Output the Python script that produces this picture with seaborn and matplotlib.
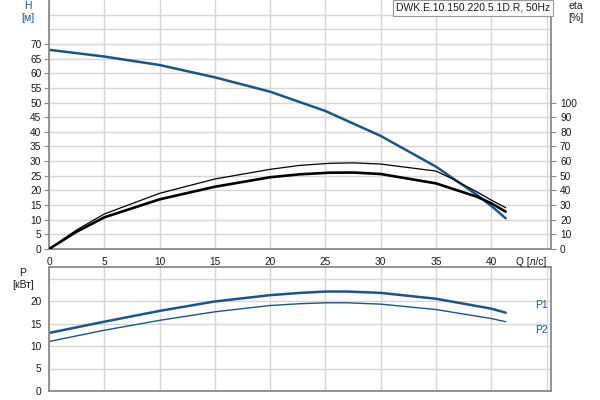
import matplotlib
matplotlib.use("Agg")
import matplotlib.pyplot as plt
import seaborn as sns
from matplotlib.ticker import FixedLocator

# ---- data ----
q_h = [0, 5, 10, 15, 20, 25, 30, 35, 38.7, 40, 41.3]
head = [68.0, 65.7, 62.8, 58.6, 53.7, 47.1, 38.6, 28.1, 18.5, 14.7, 10.5]

q_eta = [0, 2.5, 5, 10, 15, 20, 22.7, 25.4, 27.5, 30, 35, 36.4, 38.7, 40, 41.3]
eta_1 = [0, 13.0, 23.9, 38.0, 47.8, 54.4, 57.1, 58.5, 58.8, 58.0, 53.2, 48.2, 39.0, 33.4, 28.2]
q_eta2 = [0, 2.5, 5, 10, 15, 20, 22.7, 25.4, 27.5, 30, 35, 38.7, 40, 41.3]
eta_2 = [0, 11.8, 21.6, 33.9, 42.5, 49.0, 51.0, 52.1, 52.2, 51.2, 44.8, 35.7, 31.2, 25.5]

q_p = [0, 5, 10, 15, 20, 22.7, 25, 27, 30, 35, 40, 41.3]
p1 = [12.9, 15.4, 17.8, 19.9, 21.3, 21.8, 22.1, 22.1, 21.8, 20.5, 18.3, 17.4]
p2 = [11.0, 13.5, 15.7, 17.6, 19.0, 19.4, 19.6, 19.6, 19.3, 18.1, 16.1, 15.4]

x_ticks = [0, 5, 10, 15, 20, 25, 30, 35, 40, 45]
x_labels = ["0", "5", "10", "15", "20", "25", "30", "35", "40", "Q [л/с]"]
h_ticks = [0, 5, 10, 15, 20, 25, 30, 35, 40, 45, 50, 55, 60, 65, 70]
eta_ticks = [0, 10, 20, 30, 40, 50, 60, 70, 80, 90, 100]
p_ticks = [0, 5, 10, 15, 20]
title = "DWK.E.10.150.220.5.1D.R, 50Hz"

# ---- style ----
sns.set_style("white")
plt.rcParams["font.family"] = ["Liberation Sans", "DejaVu Sans"]
BLUE = "#1b5391"
GRID = "#d6d6d6"
SPINE = "#8a8a8a"
TXT = "#1a1a1a"
FS = 7.3

W, H = 600, 400
fig = plt.figure(figsize=(6, 4), dpi=100)

def fx(px):
    return px / W

def fy(py):
    return 1 - py / H

# top axes
ax1 = fig.add_axes([fx(49), fy(249), fx(502), 249 / H])
ax2 = ax1.twinx()

# bottom axes
ax3 = fig.add_axes([fx(49), fy(391), fx(502), 123.75 / H])

for ax in (ax1, ax2, ax3):
    ax.set_facecolor("none")
    for s in ax.spines.values():
        s.set_color(SPINE)
        s.set_linewidth(1.3)

ax1.set_zorder(1)
ax2.set_zorder(2)

# curves
sns.lineplot(x=q_h, y=head, ax=ax1, color=BLUE, linewidth=1.8)
sns.lineplot(x=q_eta, y=eta_1, ax=ax2, color="black", linewidth=0.9)
sns.lineplot(x=q_eta2, y=eta_2, ax=ax2, color="black", linewidth=1.9)
sns.lineplot(x=q_p, y=p1, ax=ax3, color=BLUE, linewidth=1.8)
sns.lineplot(x=q_p, y=p2, ax=ax3, color=BLUE, linewidth=1.0)

ax1.set_xlim(0, 45.4)
ax1.set_ylim(0, 85)
ax2.set_ylim(0, 170)
ax3.set_xlim(0, 45.4)
ax3.set_ylim(0, 27.5)
for ax in (ax1, ax2, ax3):
    ax.set_xlabel("")
    ax.set_ylabel("")

# ticks and grid
ax1.xaxis.set_major_locator(FixedLocator(x_ticks))
ax1.set_xticklabels(x_labels)
ax1.yaxis.set_major_locator(FixedLocator(h_ticks))
ax1.yaxis.set_minor_locator(FixedLocator([75, 80]))
ax1.grid(True, which="both", color=GRID, linewidth=1.0)
ax1.tick_params(axis="both", which="major", length=3.5, width=0.8, color=SPINE,
                labelsize=FS, labelcolor=TXT, pad=2)
ax1.tick_params(axis="y", which="minor", length=0)
ax1.spines["top"].set_visible(False)
ax1.spines["right"].set_visible(False)
ax1.get_xticklabels()[-1].set_horizontalalignment("right")

ax2.yaxis.set_major_locator(FixedLocator(eta_ticks))
ax2.tick_params(axis="y", length=3.5, width=0.8, color=SPINE, labelsize=FS,
                labelcolor=TXT, pad=3)
ax2.spines["top"].set_visible(False)
ax2.spines["left"].set_visible(False)
ax2.spines["bottom"].set_visible(False)
ax2.grid(False)

ax3.xaxis.set_major_locator(FixedLocator(x_ticks))
ax3.yaxis.set_major_locator(FixedLocator(p_ticks))
ax3.yaxis.set_minor_locator(FixedLocator([25]))
ax3.grid(True, which="both", color=GRID, linewidth=1.0)
ax3.tick_params(axis="x", length=0, labelbottom=False)
ax3.tick_params(axis="y", which="major", length=3.5, width=0.8, color=SPINE,
                labelsize=FS, labelcolor=TXT, pad=2)
ax3.tick_params(axis="y", which="minor", length=0)

# axis labels as text
fig.text(fx(28), fy(6), "H", ha="center", va="center", fontsize=7.5, color=BLUE)
fig.text(fx(28), fy(18), "[м]", ha="center", va="center", fontsize=7.5, color=BLUE)
fig.text(fx(576), fy(6), "eta", ha="center", va="center", fontsize=7.5, color=TXT)
fig.text(fx(576), fy(18), "[%]", ha="center", va="center", fontsize=7.5, color=TXT)
fig.text(fx(23), fy(273), "P", ha="center", va="center", fontsize=7.5, color=TXT)
fig.text(fx(23), fy(285), "[кВт]", ha="center", va="center", fontsize=7.5, color=TXT)

ax3.text(44.0, 19.0, "P1", ha="left", va="center", fontsize=7.5,
         color=BLUE, clip_on=False)
ax3.text(44.0, 13.5, "P2", ha="left", va="center", fontsize=7.5,
         color=BLUE, clip_on=False)

fig.text(fx(396), fy(8), title, ha="left", va="center", fontsize=7.5, color=TXT,
         zorder=10,
         bbox=dict(boxstyle="square,pad=0.25", facecolor="white",
                   edgecolor="#9a9a9a", linewidth=0.8))

fig.savefig("out.png", dpi=100, facecolor="white")
